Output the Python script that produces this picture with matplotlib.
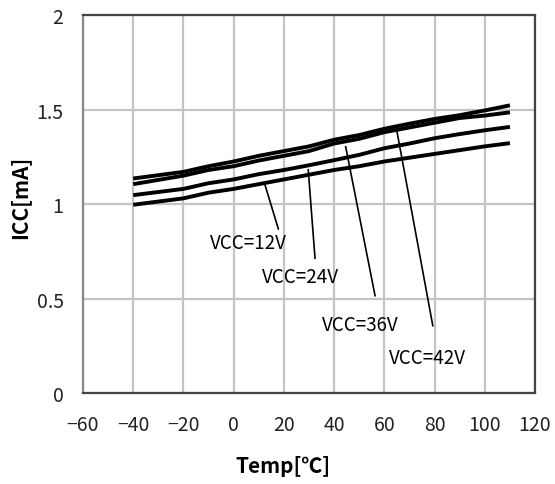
import matplotlib
matplotlib.use("Agg")
import matplotlib.pyplot as plt

plt.rcParams['font.family'] = ['Noto Sans CJK JP', 'DejaVu Sans']

temp = [-40, -20, -10, 0, 10, 20, 30, 40, 50, 60, 70, 80, 90, 100, 110]
icc_12v = [0.996, 1.03, 1.06, 1.08, 1.105, 1.13, 1.155, 1.18, 1.20, 1.225, 1.245, 1.265, 1.285, 1.305, 1.322]
icc_24v = [1.047, 1.08, 1.11, 1.13, 1.158, 1.18, 1.205, 1.232, 1.26, 1.295, 1.32, 1.348, 1.37, 1.39, 1.408]
icc_36v = [1.105, 1.15, 1.18, 1.20, 1.23, 1.255, 1.28, 1.32, 1.345, 1.38, 1.405, 1.43, 1.455, 1.468, 1.485]
icc_42v = [1.135, 1.17, 1.20, 1.225, 1.255, 1.28, 1.305, 1.34, 1.365, 1.398, 1.425, 1.45, 1.47, 1.495, 1.522]

labels = ['VCC=12V', 'VCC=24V', 'VCC=36V', 'VCC=42V']
xticks = [-60, -40, -20, 0, 20, 40, 60, 80, 100, 120]
yticks = [0, 0.5, 1, 1.5, 2]
yticklabels = ['0', '0.5', '1', '1.5', '2']

# leader line (start on curve, end near text) and text centre, data coords
leader_start = [(12.5, 1.10), (29.7, 1.181), (44.6, 1.303), (64.9, 1.393)]
leader_end = [(17.8, 0.868), (32.4, 0.713), (56.3, 0.515), (79.3, 0.356)]
text_pos = [(5.9, 0.794), (26.6, 0.615), (50.5, 0.365), (77.0, 0.19)]

fig = plt.figure(figsize=(5.55, 4.85), dpi=100)
ax = fig.add_axes([0.1495, 0.1876, 0.8145, 0.7794])

for ys in [icc_12v, icc_24v, icc_36v, icc_42v]:
    ax.plot(temp, ys, color='black', lw=2.8, solid_capstyle='butt', zorder=3)

for s, e, t, lab in zip(leader_start, leader_end, text_pos, labels):
    ax.plot([s[0], e[0]], [s[1], e[1]], color='black', lw=1.2, zorder=3)
    ax.text(t[0], t[1], lab, ha='center', va='center', fontsize=13.5, zorder=4)

ax.set_xlim(-60, 120)
ax.set_ylim(0, 2)
ax.set_xticks(xticks)
ax.set_xticklabels([str(v).replace('-', '\u2212') for v in xticks])
ax.set_yticks(yticks)
ax.set_yticklabels(yticklabels)
ax.tick_params(length=0, labelsize=14, colors='#222222')
ax.tick_params(axis='x', pad=15)
ax.tick_params(axis='y', pad=14)
ax.grid(True, color='#c4c4c4', lw=1.6, zorder=1)
ax.set_axisbelow(True)
for sp in ax.spines.values():
    sp.set_color('#444444')
    sp.set_linewidth(1.6)
ax.spines['left'].set_color('#888888')

ax.set_xlabel('Temp[\u2103]', fontsize=15, fontweight='bold')
ax.set_ylabel('ICC[mA]', fontsize=15, fontweight='bold')
ax.xaxis.set_label_coords(0.442, -0.192)
ax.xaxis.label.set_verticalalignment('center')
ax.yaxis.set_label_coords(-0.139, 0.519)
ax.yaxis.label.set_verticalalignment('center')

fig.savefig('out.png', dpi=100)
